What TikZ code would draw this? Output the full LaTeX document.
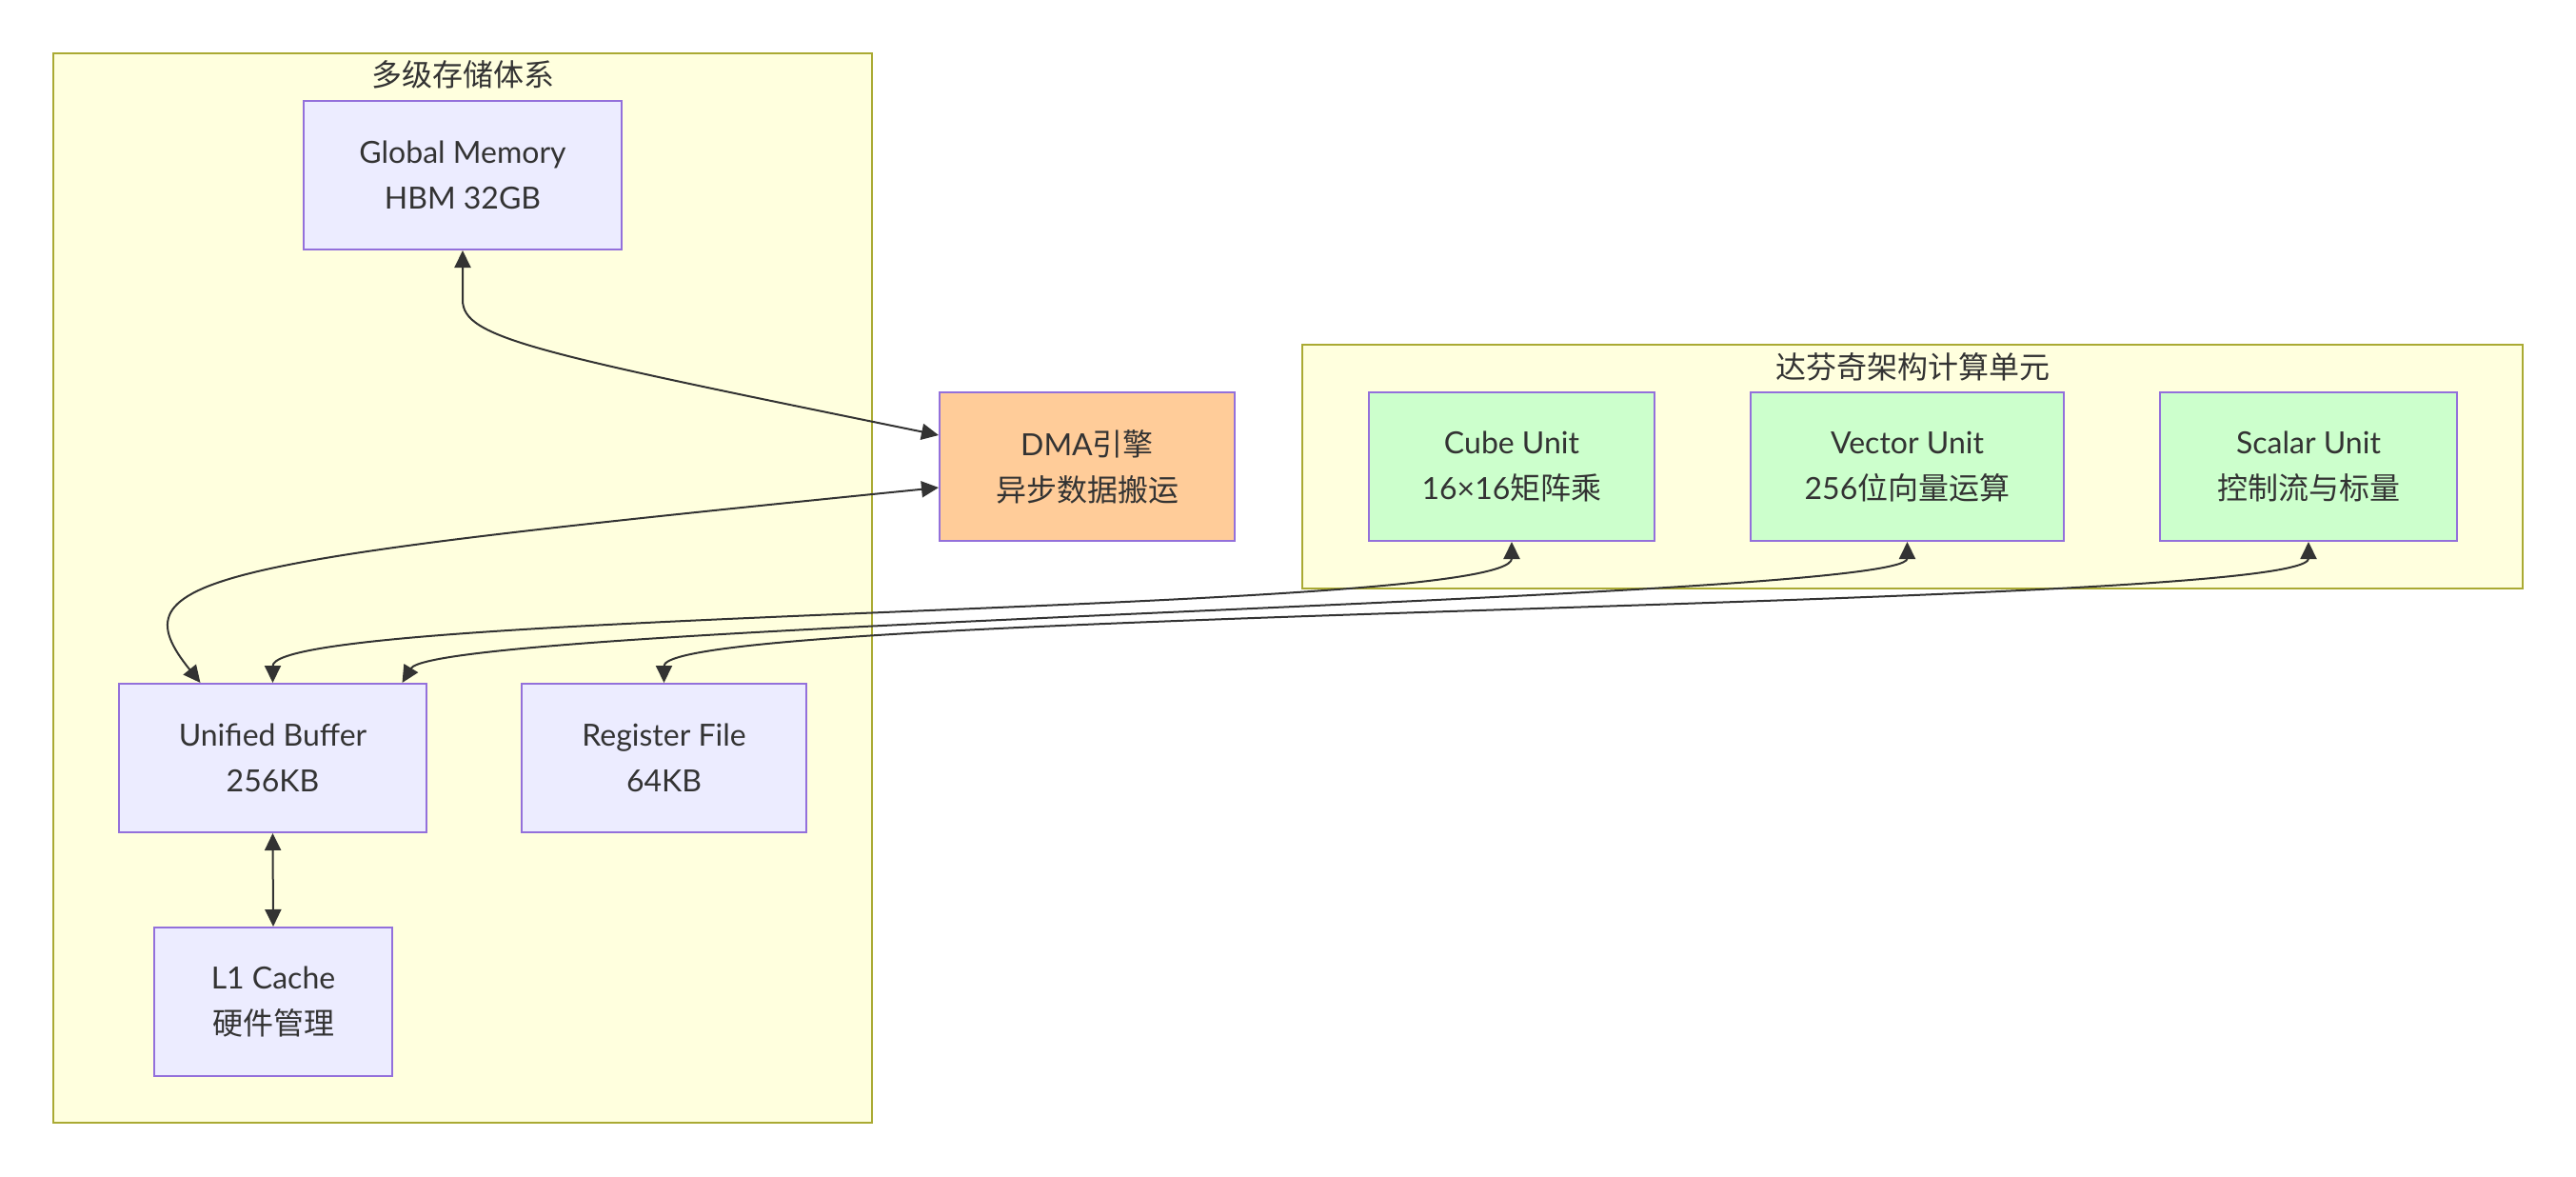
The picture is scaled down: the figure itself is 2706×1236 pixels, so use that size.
\documentclass[tikz,border=0pt]{standalone}
\usepackage{fontspec}
\setmainfont{Lato}
\newfontfamily\cjk{Noto Sans CJK SC}
\usetikzlibrary{arrows.meta}
\definecolor{nodefill}{HTML}{ECECFF}
\definecolor{nodeline}{HTML}{9370DB}
\definecolor{dmafill}{HTML}{FFCC99}
\definecolor{unitfill}{HTML}{CCFFCC}
\definecolor{clusterfill}{HTML}{FFFFDE}
\definecolor{clusterline}{HTML}{AAAA33}
\definecolor{ink}{HTML}{333333}

\begin{document}
\begin{tikzpicture}[x=0.5pt,y=-0.5pt,
  box/.style={draw=nodeline,fill=nodefill,line width=1pt,minimum height=78pt,inner sep=0pt,align=center,text=ink,font=\fontsize{16pt}{24pt}\selectfont},
  cluster/.style={draw=clusterline,fill=clusterfill,line width=1pt},
  title/.style={text=ink,inner sep=0pt,font=\fontsize{16pt}{24pt}\selectfont\cjk},
  link/.style={draw=ink,line width=1pt,{Triangle[length=9pt,width=8.5pt]}-{Triangle[length=9pt,width=8.5pt]}}]
\path[use as bounding box,fill=white](0,0) rectangle (2706,1236);
% subgraphs
\draw[cluster](56,56) rectangle (916,1179);
\draw[cluster](1368,362) rectangle (2650,618);
\node[title](memtitle) at (486,78) {多级存储体系};
\node[title](coretitle) at (2009,385) {达芬奇架构计算单元};
% memory hierarchy
\node[box,minimum width=167pt](gm) at (486,184) {Global Memory\\HBM 32GB};
\node[box,minimum width=161.5pt](ub) at (286.5,796) {Unified Buffer\\256KB};
\node[box,minimum width=149.5pt](rf) at (697.5,796) {Register File\\64KB};
\node[box,minimum width=125pt](l1) at (287,1052) {L1 Cache\\{\cjk 硬件管理}};
\node[box,fill=dmafill,minimum width=155pt](dma) at (1142,490) {DMA{\cjk 引擎}\\{\cjk 异步数据搬运}};
% compute units
\node[box,fill=unitfill,minimum width=150pt](cube) at (1588,490) {Cube Unit\\16×16{\cjk 矩阵乘}};
\node[box,fill=unitfill,minimum width=164.5pt](vec) at (2003.5,490) {Vector Unit\\256{\cjk 位向量运算}};
\node[box,fill=unitfill,minimum width=156pt](scal) at (2425,490) {Scalar Unit\\{\cjk 控制流与标量}};
% data paths
\draw[link](gm.south)--(486,315) .. controls (486,355) and (560,370) .. ([yshift=16.5pt]dma.west);
\draw[link]([xshift=-38pt]ub.north) .. controls (120,605) and (210,590) .. ([yshift=-11pt]dma.west);
\draw[link](ub.north) .. controls (286.5,640) and (1588,645) .. (cube.south);
\draw[link]([xshift=68pt]ub.north) .. controls (460,655) and (2003.5,630) .. (vec.south);
\draw[link](rf.north) .. controls (697.5,640) and (2425,640) .. (scal.south);
\draw[link](ub.south)--(l1.north);
\end{tikzpicture}
\end{document}
